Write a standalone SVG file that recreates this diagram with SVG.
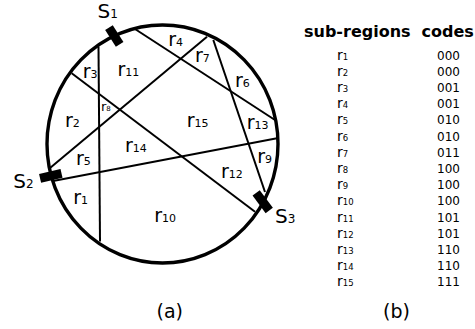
<svg xmlns="http://www.w3.org/2000/svg" width="475" height="329" viewBox="0 0 475 329">
<style>
text{font-family:"DejaVu Sans",sans-serif;fill:#000}
.chord{stroke:#000;stroke-width:2;fill:none}
.rim{stroke:#000;stroke-width:3.4;fill:none}
.lab{font-size:19px}
.lab tspan{font-size:11px}
.sl{font-size:20px}
.sl tspan{font-size:12px}
.tr{font-size:14px}
.tr tspan{font-size:8.5px}
.code{font-size:12px}
.hd{font-size:16px;font-weight:bold}
.cap{font-size:19px}
</style>
<rect width="475" height="329" fill="#fff"/>
<g id="circle">
<ellipse class="rim" cx="162.5" cy="144" rx="115.5" ry="119"/>
</g>
<g id="connectors">
<line class="chord" x1="98.5" y1="46.5" x2="100" y2="241.5"/>
<line class="chord" x1="135" y1="29" x2="275" y2="120"/>
<line class="chord" x1="207" y1="36.7" x2="50" y2="168"/>
<line class="chord" x1="53" y1="181" x2="277" y2="138.3"/>
<line class="chord" x1="71.7" y1="73.3" x2="255" y2="211.7"/>
<line class="chord" x1="213.3" y1="40" x2="265" y2="192"/>
</g>
<g id="sensors">
<rect x="-10" y="-4.5" width="20" height="9" transform="translate(114.3 36) rotate(57.7)"/>
<rect x="-11" y="-4.5" width="22" height="9" transform="translate(50.8 175.8) rotate(-13)"/>
<rect x="-11" y="-4.5" width="22" height="9" transform="translate(262.7 201.7) rotate(53.5)"/>
</g>
<g id="sensor-labels">
<text class="sl" x="97.5" y="18.3">S<tspan>1</tspan></text>
<text class="sl" x="13.3" y="187.5">S<tspan>2</tspan></text>
<text class="sl" x="275" y="222.5">S<tspan>3</tspan></text>
</g>
<g id="regions">
<text class="lab" x="73.3" y="204.3">r<tspan>1</tspan></text>
<text class="lab" x="65" y="126.7">r<tspan>2</tspan></text>
<text class="lab" x="82.7" y="78.3">r<tspan>3</tspan></text>
<text class="lab" x="168.3" y="45.7">r<tspan>4</tspan></text>
<text class="lab" x="76" y="165">r<tspan>5</tspan></text>
<text class="lab" x="235" y="86.7">r<tspan>6</tspan></text>
<text class="lab" x="195" y="61.7">r<tspan>7</tspan></text>
<text x="101" y="111" style="font-size:13px">r<tspan style="font-size:7px">8</tspan></text>
<text class="lab" x="257.3" y="163.3">r<tspan>9</tspan></text>
<text class="lab" x="154.3" y="221.7">r<tspan>10</tspan></text>
<text class="lab" x="117.5" y="76">r<tspan>11</tspan></text>
<text class="lab" x="221" y="177.7">r<tspan>12</tspan></text>
<text class="lab" x="246.7" y="129.3">r<tspan>13</tspan></text>
<text class="lab" x="125" y="151.7">r<tspan>14</tspan></text>
<text class="lab" x="186.7" y="126.7">r<tspan>15</tspan></text>
</g>
<g id="table">
<text class="hd" x="304" y="37.3">sub-regions</text>
<text class="hd" x="421.5" y="37.3">codes</text>
<text class="tr" x="337" y="59.5">r<tspan>1</tspan></text><text class="code" x="437" y="59.5">000</text>
<text class="tr" x="337" y="75.7">r<tspan>2</tspan></text><text class="code" x="437" y="75.7">000</text>
<text class="tr" x="337" y="91.9">r<tspan>3</tspan></text><text class="code" x="437" y="91.9">001</text>
<text class="tr" x="337" y="108.1">r<tspan>4</tspan></text><text class="code" x="437" y="108.1">001</text>
<text class="tr" x="337" y="124.3">r<tspan>5</tspan></text><text class="code" x="437" y="124.3">010</text>
<text class="tr" x="337" y="140.5">r<tspan>6</tspan></text><text class="code" x="437" y="140.5">010</text>
<text class="tr" x="337" y="156.7">r<tspan>7</tspan></text><text class="code" x="437" y="156.7">011</text>
<text class="tr" x="337" y="172.9">r<tspan>8</tspan></text><text class="code" x="437" y="172.9">100</text>
<text class="tr" x="337" y="189.1">r<tspan>9</tspan></text><text class="code" x="437" y="189.1">100</text>
<text class="tr" x="337" y="205.3">r<tspan>10</tspan></text><text class="code" x="437" y="205.3">100</text>
<text class="tr" x="337" y="221.5">r<tspan>11</tspan></text><text class="code" x="437" y="221.5">101</text>
<text class="tr" x="337" y="237.7">r<tspan>12</tspan></text><text class="code" x="437" y="237.7">101</text>
<text class="tr" x="337" y="253.9">r<tspan>13</tspan></text><text class="code" x="437" y="253.9">110</text>
<text class="tr" x="337" y="270.1">r<tspan>14</tspan></text><text class="code" x="437" y="270.1">110</text>
<text class="tr" x="337" y="286.3">r<tspan>15</tspan></text><text class="code" x="437" y="286.3">111</text>
</g>
<g id="captions">
<text class="cap" x="156.5" y="318">(a)</text>
<text class="cap" x="383" y="318">(b)</text>
</g>
</svg>
